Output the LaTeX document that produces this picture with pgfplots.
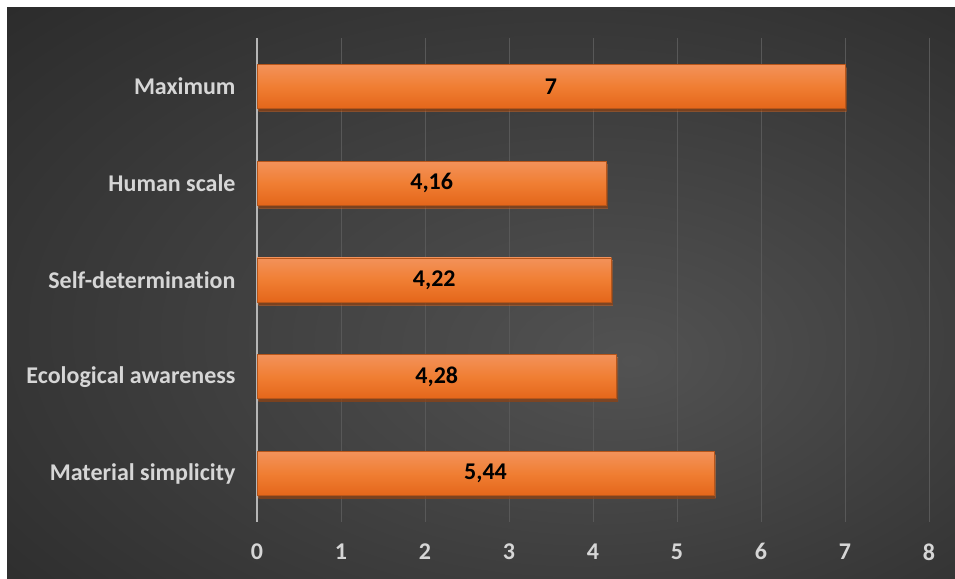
\documentclass[border=0pt]{standalone}
\usepackage{pgfplots}
\pgfplotsset{compat=1.18}
\usepackage{fontspec}
\setmainfont[Ligatures={NoCommon}]{Carlito}
\definecolor{bgin}{HTML}{525252}
\definecolor{bgout}{HTML}{262626}
\definecolor{bartop}{HTML}{F3925A}
\definecolor{barmid}{HTML}{F07E33}
\definecolor{barbot}{HTML}{E4661A}
\definecolor{barline}{HTML}{B8561A}
\definecolor{gridc}{HTML}{585858}
\definecolor{labc}{HTML}{D6D6D6}
\pgfdeclareradialshading{bgshade}{\pgfpoint{8bp}{-6bp}}{color(0bp)=(bgin); color(45bp)=(bgout); color(60bp)=(bgout)}
\begin{document}
\begin{tikzpicture}[x=1pt,y=1pt]
\useasboundingbox (0,0) rectangle (955,578);
\fill[white] (0,0) rectangle (955,578);
\shade[shading=bgshade] (7,0) rectangle (955,570);
\begin{axis}[
  at={(257pt,56pt)}, anchor=south west,
  scale only axis, width=672pt, height=484pt,
  xmin=0, xmax=8, ymin=-0.5, ymax=4.5,
  xtick={0,...,8},
  ytick={0,1,2,3,4},
  yticklabels={Material simplicity,Ecological awareness,Self-determination,Human scale,Maximum},
  axis line style={draw=none},
  xmajorgrids, major grid style={gridc, line width=1pt},
  tick style={draw=none},
  /pgf/number format/assume math mode=true,
  ticklabel style={font=\fontsize{24}{27}\selectfont\bfseries, text=labc},
  xticklabel style={yshift=-18pt},
  yticklabel style={xshift=-18pt},
  clip=false,
  bar/.style={xbar, bar width=44pt, bar shift=0pt, draw=barline, line width=0.8pt,
    top color=bartop, bottom color=barbot, middle color=barmid,
    preaction={fill=black, fill opacity=0.45, draw=none, transform canvas={xshift=1.5pt,yshift=-3pt}}},
]
\draw[labc!85!black, line width=1.4pt] (axis cs:0,-0.5) -- (axis cs:0,4.5);
\addplot[bar] coordinates {(5.44,0)};
\addplot[bar] coordinates {(4.28,1)};
\addplot[bar] coordinates {(4.22,2)};
\addplot[bar] coordinates {(4.16,3)};
\addplot[bar] coordinates {(7,4)};
\addplot[draw=none, mark=none, nodes near coords, point meta=explicit symbolic,
  nodes near coords style={anchor=center, font=\fontsize{24}{27}\selectfont\bfseries, text=black}]
  coordinates {(2.72,0) [5,44] (2.14,1) [4,28] (2.11,2) [4,22] (2.08,3) [4,16] (3.5,4) [7]};
\end{axis}
\end{tikzpicture}
\end{document}
